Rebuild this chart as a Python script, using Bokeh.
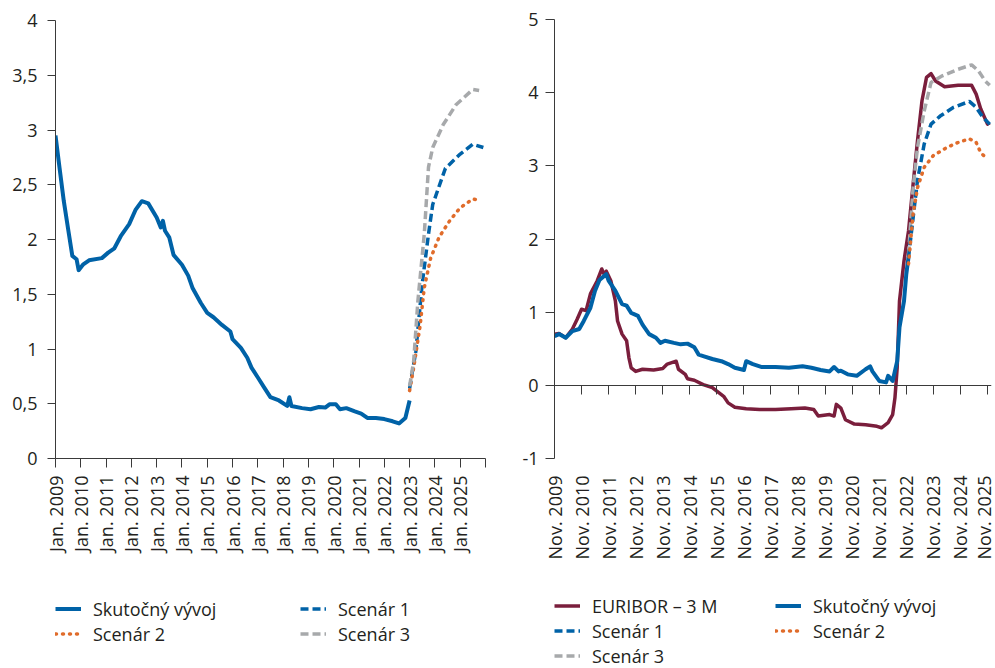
import math
import pandas as pd
from bokeh.plotting import figure
from bokeh.models import (ColumnDataSource, DatetimeAxis, FixedTicker, Legend, LegendItem,
                          CustomJSTickFormatter, Range1d)
from bokeh.layouts import row, column
from bokeh.embed import file_html
from bokeh.resources import INLINE

FONT = "Open Sans"
TEXT = "#231f20"
AXIS = "#3a3a3a"
BLUE = "#0062a7"
MAROON = "#7a1e3c"
ORANGE = "#e06c2b"
GREY = "#a7a9ab"

# ---------------- Left chart data ----------------
left_actual_dates = ["2009-01", "2009-03", "2009-05", "2009-07", "2009-09", "2009-11", "2009-12",
                     "2010-02", "2010-05", "2010-11", "2011-02", "2011-05", "2011-08", "2011-12",
                     "2012-03", "2012-06", "2012-09", "2013-01", "2013-03", "2013-04", "2013-05",
                     "2013-07", "2013-09", "2014-01", "2014-04", "2014-06", "2014-10", "2015-01",
                     "2015-04", "2015-08", "2015-12", "2016-01", "2016-05", "2016-08", "2016-10",
                     "2017-01", "2017-04", "2017-07", "2017-11", "2018-03", "2018-04", "2018-05",
                     "2018-10", "2019-02", "2019-06", "2019-09", "2019-11", "2020-02", "2020-04",
                     "2020-07", "2020-11", "2021-02", "2021-05", "2021-09", "2022-01", "2022-05",
                     "2022-08", "2022-11", "2023-01"]
left_actual_vals = [2.95, 2.65, 2.35, 2.10, 1.85, 1.82, 1.72,
                    1.77, 1.81, 1.83, 1.88, 1.92, 2.03, 2.14,
                    2.27, 2.35, 2.33, 2.20, 2.11, 2.17, 2.08,
                    2.02, 1.86, 1.77, 1.67, 1.56, 1.42, 1.33,
                    1.29, 1.22, 1.16, 1.09, 1.01, 0.92, 0.83,
                    0.74, 0.65, 0.56, 0.53, 0.48, 0.56, 0.48,
                    0.46, 0.45, 0.47, 0.465, 0.495, 0.495, 0.45,
                    0.46, 0.43, 0.41, 0.37, 0.37, 0.36, 0.34,
                    0.32, 0.37, 0.53]

left_s1_dates = ["2023-01", "2023-04", "2023-07", "2023-10", "2023-12", "2024-06", "2025-01", "2025-07", "2025-12"]
left_s1_vals = [0.64, 0.98, 1.59, 2.05, 2.32, 2.65, 2.78, 2.87, 2.84]

left_s2_dates = ["2023-01", "2023-03", "2023-06", "2023-08", "2023-11", "2024-03", "2024-08", "2025-01", "2025-07", "2025-10"]
left_s2_vals = [0.62, 0.83, 1.21, 1.56, 1.83, 2.02, 2.17, 2.29, 2.37, 2.36]

left_s3_dates = ["2023-01", "2023-03", "2023-05", "2023-08", "2023-10", "2023-12", "2024-05", "2024-11", "2025-07", "2025-10"]
left_s3_vals = [0.66, 0.89, 1.44, 2.05, 2.66, 2.84, 3.05, 3.23, 3.37, 3.36]

left_tick_dates = [f"{y}-01-01" for y in range(2009, 2027)]
left_tick_labels = [f"Jan. {y}" for y in range(2009, 2026)] + [""]
left_y_ticks = [0, 0.5, 1, 1.5, 2, 2.5, 3, 3.5, 4]

# ---------------- Right chart data ----------------
right_eur_dates = ["2009-11", "2010-01", "2010-04", "2010-07", "2010-09", "2010-11", "2011-01", "2011-03",
                   "2011-06", "2011-08", "2011-09", "2011-10", "2011-12", "2012-02", "2012-03", "2012-05",
                   "2012-07", "2012-08", "2012-09", "2012-11", "2013-02", "2013-07", "2013-11", "2014-01",
                   "2014-05", "2014-06", "2014-09", "2014-10", "2015-01", "2015-05", "2015-09", "2015-11",
                   "2016-02", "2016-04", "2016-07", "2016-12", "2017-06", "2018-01", "2018-08", "2019-02",
                   "2019-06", "2019-08", "2020-01", "2020-03", "2020-04", "2020-06", "2020-08", "2020-12",
                   "2021-05", "2021-10", "2021-12", "2022-03", "2022-05", "2022-06", "2022-07", "2022-08",
                   "2022-10", "2022-12", "2023-02", "2023-04", "2023-06", "2023-08", "2023-10", "2023-12",
                   "2024-04", "2024-10", "2025-04", "2025-06", "2025-08", "2025-11", "2025-12"]
right_eur_vals = [0.70, 0.71, 0.65, 0.77, 0.90, 1.04, 1.02, 1.25,
                  1.43, 1.59, 1.52, 1.56, 1.43, 1.15, 0.88, 0.70,
                  0.61, 0.38, 0.24, 0.19, 0.22, 0.21, 0.23, 0.29,
                  0.33, 0.22, 0.15, 0.09, 0.07, 0.01, -0.03, -0.08,
                  -0.15, -0.24, -0.30, -0.32, -0.33, -0.33, -0.32, -0.31,
                  -0.33, -0.42, -0.40, -0.42, -0.26, -0.31, -0.47, -0.53,
                  -0.54, -0.56, -0.58, -0.51, -0.40, -0.17, 0.24, 1.15,
                  1.70, 2.11, 2.75, 3.34, 3.89, 4.21, 4.26, 4.16,
                  4.08, 4.10, 4.10, 3.98, 3.78, 3.57, 3.59]

right_act_dates = ["2009-11", "2010-01", "2010-04", "2010-07", "2010-10", "2010-12", "2011-03", "2011-05",
                   "2011-07", "2011-10", "2011-11", "2012-02", "2012-05", "2012-07", "2012-09", "2012-12",
                   "2013-02", "2013-05", "2013-08", "2013-10", "2013-12", "2014-04", "2014-07", "2014-10",
                   "2015-01", "2015-03", "2015-05", "2015-09", "2016-01", "2016-04", "2016-07", "2016-11",
                   "2016-12", "2017-03", "2017-07", "2018-01", "2018-07", "2019-01", "2019-05", "2019-09",
                   "2020-01", "2020-03", "2020-05", "2020-06", "2020-09", "2021-01", "2021-05", "2021-07",
                   "2021-08", "2021-11", "2022-02", "2022-03", "2022-05", "2022-07", "2022-08", "2022-10",
                   "2022-11", "2022-12"]
right_act_vals = [0.67, 0.70, 0.65, 0.74, 0.77, 0.88, 1.06, 1.29,
                  1.44, 1.52, 1.43, 1.29, 1.11, 1.09, 0.99, 0.95,
                  0.83, 0.70, 0.65, 0.58, 0.61, 0.58, 0.56, 0.57,
                  0.52, 0.42, 0.40, 0.36, 0.33, 0.29, 0.24, 0.21,
                  0.33, 0.29, 0.25, 0.25, 0.24, 0.26, 0.24, 0.21,
                  0.19, 0.25, 0.19, 0.20, 0.15, 0.13, 0.22, 0.26,
                  0.19, 0.06, 0.04, 0.13, 0.06, 0.33, 0.79, 1.15,
                  1.52, 1.75]

right_s1_dates = ["2022-12", "2023-02", "2023-04", "2023-07", "2023-10", "2024-02", "2024-08", "2025-03", "2025-06", "2025-09", "2025-12"]
right_s1_vals = [1.75, 2.29, 2.80, 3.30, 3.57, 3.68, 3.80, 3.88, 3.80, 3.66, 3.57]

right_s2_dates = ["2022-12", "2023-02", "2023-04", "2023-07", "2023-11", "2024-05", "2024-10", "2025-03", "2025-06", "2025-08", "2025-11"]
right_s2_vals = [1.66, 2.34, 2.70, 2.98, 3.14, 3.25, 3.32, 3.37, 3.32, 3.18, 3.09]

right_s3_dates = ["2022-12", "2023-02", "2023-04", "2023-07", "2023-10", "2024-03", "2024-10", "2025-04", "2025-07", "2025-10", "2025-12"]
right_s3_vals = [1.79, 2.70, 3.25, 3.75, 4.14, 4.23, 4.32, 4.38, 4.30, 4.16, 4.10]

right_tick_dates = [f"{y}-11-01" for y in range(2009, 2026)]
right_tick_labels = [f"Nov. {y}" for y in range(2009, 2026)]
right_y_ticks = [-1, 0, 1, 2, 3, 4, 5]


def ms(d):
    return pd.Timestamp(d).value / 1e6


def src(dates, vals):
    return ColumnDataSource(dict(x=pd.to_datetime(dates), y=vals))


YFMT = "return tick.toString().replace('.', ',');"
XFMT = """
let best = 0; let bd = Infinity;
for (let i = 0; i < tvals.length; i++) { const d = Math.abs(tvals[i] - tick); if (d < bd) { bd = d; best = i; } }
return tlabels[best];
"""


def base_fig(x0, x1, y0, y1, fw, fh, mbl, mbr, mbt, mbb):
    p = figure(x_axis_type="datetime", x_range=Range1d(pd.Timestamp(x0), pd.Timestamp(x1)),
               y_range=Range1d(y0, y1), frame_width=fw, frame_height=fh,
               min_border_left=mbl, min_border_right=mbr, min_border_top=mbt, min_border_bottom=mbb,
               output_backend="svg", toolbar_location=None, outline_line_color=None,
               background_fill_color="white", border_fill_color="white")
    p.grid.visible = False
    return p


def style_yaxis(p, ticks, standoff, tick_out):
    ax = p.yaxis[0]
    ax.ticker = FixedTicker(ticks=ticks)
    ax.formatter = CustomJSTickFormatter(code=YFMT)
    ax.axis_line_color = AXIS
    ax.major_tick_line_color = AXIS
    ax.minor_tick_line_color = None
    ax.major_tick_out = tick_out
    ax.major_tick_in = 0
    ax.major_label_standoff = standoff
    ax.major_label_text_font = FONT
    ax.major_label_text_font_size = "18px"
    ax.major_label_text_color = TEXT


def style_xlabels(ax, tick_dates, tick_labels):
    tms = [ms(d) for d in tick_dates]
    ax.ticker = FixedTicker(ticks=tms)
    ax.formatter = CustomJSTickFormatter(args=dict(tvals=tms, tlabels=tick_labels), code=XFMT)
    ax.major_label_orientation = math.pi / 2
    ax.major_label_text_font = FONT
    ax.major_label_text_font_size = "18px"
    ax.major_label_text_color = TEXT
    ax.minor_tick_line_color = None
    ax.major_tick_out = 9
    ax.major_tick_in = 0
    ax.major_label_standoff = 8


def legend_fig(width, height):
    f = figure(width=width, height=height, x_range=Range1d(0, 1), y_range=Range1d(0, 1),
               x_axis_location=None, y_axis_location=None, output_backend="svg",
               toolbar_location=None, outline_line_color=None, min_border=0,
               background_fill_color="white", border_fill_color="white")
    f.grid.visible = False
    return f


def col_legend(items, x, y):
    return Legend(items=items, location=(x, y), orientation="vertical",
                  label_text_font=FONT, label_text_font_size="18px", label_text_color=TEXT,
                  glyph_width=26, glyph_height=25, label_height=25,
                  label_standoff=12, spacing=0, padding=0, margin=0,
                  border_line_color=None, background_fill_alpha=0)


STYLES = {
    "act": dict(color=BLUE, line_width=4, line_join="round"),
    "eur": dict(color=MAROON, line_width=3.5, line_join="round"),
    "s1": dict(color=BLUE, line_width=3.5, line_dash="8 4"),
    "s2": dict(color=ORANGE, line_width=3.5, line_dash="1 6", line_cap="round"),
    "s3": dict(color=GREY, line_width=3.5, line_dash="8 4"),
}


def legend_glyph(f, key):
    # legend-only carrier: a single undefined (NaN) point, so nothing is drawn in the plot area
    return f.line(x=[float("nan")], y=[float("nan")], **STYLES[key])


LEG_H = 105

# ---------------- Left figure ----------------
p1 = base_fig("2009-01-01", "2026-01-01", 0, 4, 430, 438, 55, 15, 20, 105)
style_yaxis(p1, left_y_ticks, 10, 8)
xa = p1.xaxis[0]
style_xlabels(xa, left_tick_dates, left_tick_labels)
xa.axis_line_color = AXIS
xa.major_tick_line_color = AXIS

p1.line("x", "y", source=src(left_actual_dates, left_actual_vals), **STYLES["act"])
p1.line("x", "y", source=src(left_s1_dates, left_s1_vals), **STYLES["s1"])
p1.line("x", "y", source=src(left_s2_dates, left_s2_vals), **STYLES["s2"])
p1.line("x", "y", source=src(left_s3_dates, left_s3_vals), **STYLES["s3"])

lf1 = legend_fig(500, LEG_H)
la = legend_glyph(lf1, "act")
l1 = legend_glyph(lf1, "s1")
l2 = legend_glyph(lf1, "s2")
l3 = legend_glyph(lf1, "s3")
lf1.add_layout(col_legend([LegendItem(label="Skutočný vývoj", renderers=[la]),
                           LegendItem(label="Scenár 2", renderers=[l2])], 0, 22), "center")
lf1.add_layout(col_legend([LegendItem(label="Scenár 1", renderers=[l1]),
                           LegendItem(label="Scenár 3", renderers=[l3])], 245, 22), "center")

# ---------------- Right figure ----------------
p2 = base_fig("2009-11-01", "2025-12-25", -1, 5, 437, 439, 54, 4, 19, 105)
style_yaxis(p2, right_y_ticks, 7, 9)
xb = p2.xaxis[0]
style_xlabels(xb, right_tick_dates, right_tick_labels)
xb.axis_line_color = None
xb.major_tick_line_color = None

zero_axis = DatetimeAxis(ticker=FixedTicker(ticks=[ms(d) for d in right_tick_dates]), fixed_location=0,
                         formatter=CustomJSTickFormatter(code="return '';"),
                         axis_line_color=AXIS, major_tick_line_color=AXIS, minor_tick_line_color=None,
                         major_tick_out=0, major_tick_in=9, major_label_standoff=0,
                         major_label_text_font_size="1px")
p2.add_layout(zero_axis, "above")

p2.line("x", "y", source=src(right_eur_dates, right_eur_vals), **STYLES["eur"])
p2.line("x", "y", source=src(right_act_dates, right_act_vals), **STYLES["act"])
p2.line("x", "y", source=src(right_s3_dates, right_s3_vals), **STYLES["s3"])
p2.line("x", "y", source=src(right_s1_dates, right_s1_vals), **STYLES["s1"])
p2.line("x", "y", source=src(right_s2_dates, right_s2_vals), **STYLES["s2"])

lf2 = legend_fig(495, LEG_H)
re_ = legend_glyph(lf2, "eur")
ra = legend_glyph(lf2, "act")
r1 = legend_glyph(lf2, "s1")
r2 = legend_glyph(lf2, "s2")
r3 = legend_glyph(lf2, "s3")
lf2.add_layout(col_legend([LegendItem(label="EURIBOR – 3 M", renderers=[re_]),
                           LegendItem(label="Scenár 1", renderers=[r1]),
                           LegendItem(label="Scenár 3", renderers=[r3])], 0, 0), "center")
lf2.add_layout(col_legend([LegendItem(label="Skutočný vývoj", renderers=[ra]),
                           LegendItem(label="Scenár 2", renderers=[r2])], 221, 25), "center")

layout = row(column(p1, lf1), column(p2, lf2))
open("out.html", "w").write(file_html(layout, INLINE))
